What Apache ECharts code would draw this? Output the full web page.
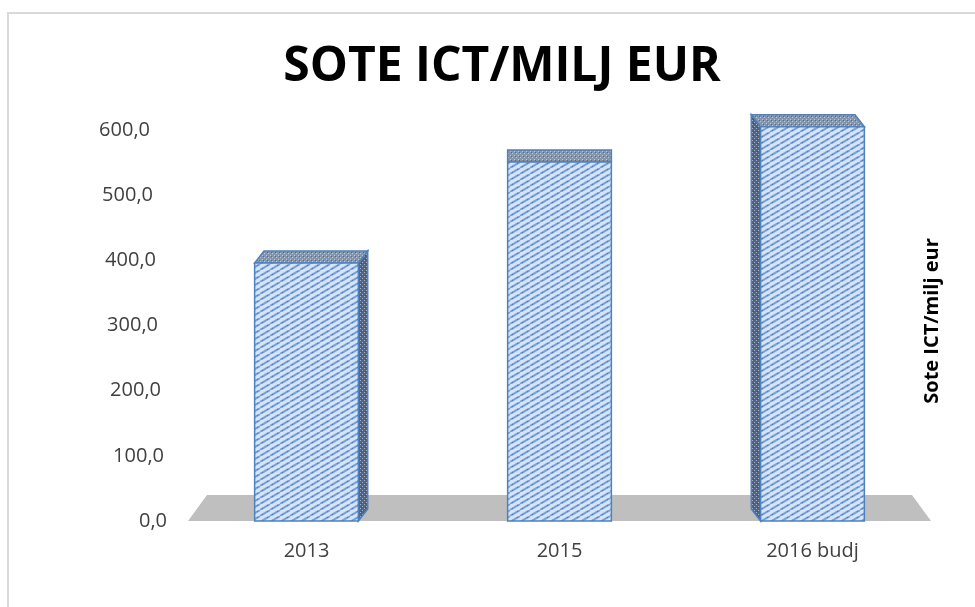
<!DOCTYPE html>
<html><head><meta charset="utf-8">
<script src="https://cdn.jsdelivr.net/npm/echarts@6/dist/echarts.min.js"></script>
<style>html,body{margin:0;padding:0;background:#fff}#c{width:975px;height:607px}</style>
</head><body><div id="c"></div>
<script>
const titleText = 'SOTE ICT/MILJ EUR';
const axisTitle = 'Sote ICT/milj eur';
const categories = ['2013', '2015', '2016 budj'];
const values = [396, 551, 605];
const yTickLabels = ['0,0', '100,0', '200,0', '300,0', '400,0', '500,0', '600,0'];

function makeCanvas(w, h, draw) {
  const c = document.createElement('canvas');
  c.width = w; c.height = h;
  draw(c.getContext('2d'));
  return c;
}
const frontCanvas = makeCanvas(10, 6, (g) => {
  g.fillStyle = '#d6e4f6'; g.fillRect(0, 0, 10, 6);
  g.strokeStyle = '#77a0da'; g.lineWidth = 2;
  for (const x0 of [-10, 0, 10]) {
    g.beginPath(); g.moveTo(x0, 6); g.lineTo(x0 + 10, 0); g.stroke();
  }
  g.fillStyle = '#4a7ec0';
  g.fillRect(2, 4, 1, 1); g.fillRect(7, 1, 1, 1);
});
const sideCanvas = makeCanvas(4, 4, (g) => {
  g.fillStyle = '#55647a'; g.fillRect(0, 0, 4, 4);
  g.fillStyle = '#9fb3d1'; g.fillRect(0, 0, 1, 1); g.fillRect(2, 2, 1, 1);
  g.fillStyle = '#3f4b5e'; g.fillRect(1, 3, 1, 1);
});
const topCanvas = makeCanvas(4, 4, (g) => {
  g.fillStyle = '#8595ab'; g.fillRect(0, 0, 4, 4);
  g.fillStyle = '#b7c6da'; g.fillRect(0, 1, 1, 1); g.fillRect(2, 3, 1, 1);
  g.fillStyle = '#5d6a80'; g.fillRect(3, 0, 1, 1);
});
const frontPat = { image: frontCanvas, repeat: 'repeat' };
const sidePat = { image: sideCanvas, repeat: 'repeat' };
const topPat = { image: topCanvas, repeat: 'repeat' };
const edge = '#4f81bd';

const chart = echarts.init(document.getElementById('c'), null, { renderer: 'canvas' });
chart.setOption({
  animation: false,
  backgroundColor: '#ffffff',
  title: {
    text: titleText, left: 497, top: 38, textAlign: 'center',
    textStyle: { fontFamily: 'Open Sans', fontWeight: 'bold', fontSize: 48, color: '#000000' }
  },
  grid: { left: 180, top: 130, width: 759, height: 391, containLabel: false, outerBoundsMode: 'none' },
  xAxis: {
    type: 'category', data: categories,
    axisLine: { show: false }, axisTick: { show: false }, splitLine: { show: false },
    axisLabel: { margin: 20, fontSize: 20, fontFamily: 'Open Sans', color: '#404040' }
  },
  yAxis: {
    type: 'value', min: 0, max: 600, interval: 100,
    axisLine: { show: false }, axisTick: { show: false }, splitLine: { show: false },
    axisLabel: {
      margin: 13,
      formatter: (v) => { const i = Math.round(v / 100); return '{t' + i + '|' + yTickLabels[i] + '}'; },
      rich: (() => {
        const r = {};
        for (let i = 0; i <= 6; i++) {
          r['t' + i] = { fontSize: 20, fontFamily: 'Open Sans', color: '#404040', padding: [0, Math.round(i / 6 * 17), 0, 0] };
        }
        return r;
      })()
    }
  },
  graphic: [
    { type: 'rect', z: -10, shape: { x: 8, y: 13, width: 1000, height: 700 }, style: { fill: 'none', stroke: '#d9d9d9', lineWidth: 2 } },
    { type: 'text', x: 932, y: 321, rotation: Math.PI / 2,
      style: { text: axisTitle, textAlign: 'center', textVerticalAlign: 'middle', fontFamily: 'Open Sans', fontWeight: 'bold', fontSize: 20, fill: '#000000' } }
  ],
  series: [
    {
      type: 'custom', z: 1, silent: true, data: [[0]],
      renderItem: (params, api) => {
        const cs = params.coordSys;
        const yB = cs.y + cs.height, yT = yB - 26;
        return { type: 'polygon', shape: { points: [[cs.x + 8, yB], [cs.x + cs.width - 8, yB], [cs.x + cs.width - 27, yT], [cs.x + 27, yT]] },
          style: { fill: '#bfbfbf' } };
      }
    },
    {
      type: 'custom', z: 2, clip: false,
      data: values.map((v, i) => [i, v]),
      renderItem: (params, api) => {
        const idx = api.value(0), val = api.value(1);
        const top = api.coord([idx, val]);
        const base = api.coord([idx, 0]);
        const bw = api.size([1, 0])[0] * 0.41;
        const cs = params.coordSys;
        const vx = cs.x + cs.width / 2;
        const dx = (vx - top[0]) * 0.037;
        const dy = -12;
        const x0 = top[0] - bw / 2, x1 = top[0] + bw / 2, yT = top[1], yB = base[1];
        const ch = [];
        const sx = dx > 0 ? x1 : x0;
        if (Math.abs(dx) > 1.5) {
          ch.push({ type: 'polygon', shape: { points: [[sx, yB], [sx, yT], [sx + dx, yT + dy], [sx + dx, yB + dy]] },
            style: { fill: sidePat, stroke: edge, lineWidth: 1.5 } });
        }
        ch.push({ type: 'polygon', shape: { points: [[x0, yT], [x1, yT], [x1 + dx, yT + dy], [x0 + dx, yT + dy]] },
          style: { fill: topPat, stroke: edge, lineWidth: 1.5 } });
        ch.push({ type: 'rect', shape: { x: x0, y: yT, width: bw, height: yB - yT },
          style: { fill: frontPat, stroke: edge, lineWidth: 1.5 } });
        return { type: 'group', children: ch };
      }
    }
  ]
});
</script></body></html>
